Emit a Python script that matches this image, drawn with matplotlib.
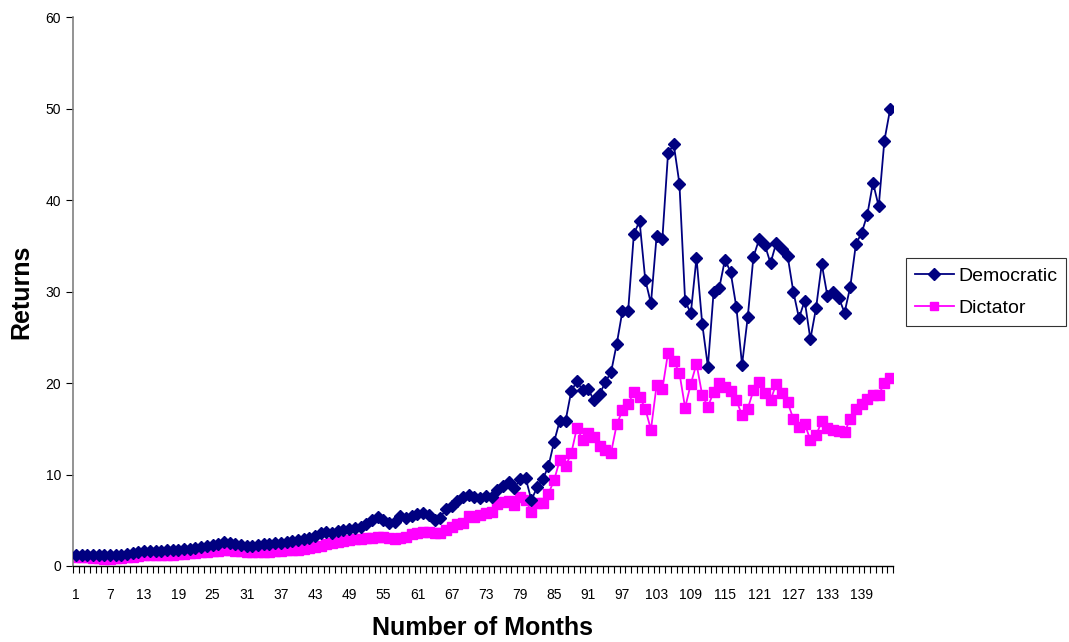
import numpy as np
import matplotlib.pyplot as plt

plt.rcParams['font.family'] = ['Liberation Sans', 'DejaVu Sans']

# Monthly cumulative returns for the two portfolios
months = np.arange(1, 145)

democratic = [
    1.25, 1.25, 1.2, 1.2, 1.15, 1.15, 1.15, 1.2, 1.25, 1.35,
    1.45, 1.55, 1.6, 1.6, 1.65, 1.65, 1.7, 1.75, 1.8, 1.85,
    1.9, 2.0, 2.1, 2.2, 2.3, 2.45, 2.6, 2.5, 2.45, 2.3,
    2.2, 2.15, 2.3, 2.4, 2.45, 2.5, 2.55, 2.6, 2.7, 2.85,
    3.0, 3.1, 3.3, 3.6, 3.7, 3.65, 3.8, 3.9, 4.0, 4.1,
    4.3, 4.6, 5.0, 5.4, 5.0, 4.7, 4.8, 5.5, 5.2, 5.5,
    5.7, 5.8, 5.6, 5.0, 5.3, 6.2, 6.6, 7.1, 7.5, 7.8,
    7.5, 7.4, 7.6, 7.5, 8.3, 8.7, 9.2, 8.5, 9.5, 9.6,
    7.2, 8.6, 9.5, 10.9, 13.6, 15.9, 15.85, 19.1, 20.2, 19.2,
    19.3, 18.1, 18.8, 20.1, 21.2, 24.3, 27.9, 27.9, 36.3, 37.7,
    31.3, 28.7, 36.1, 35.7, 45.1, 46.1, 41.8, 29.0, 27.6, 33.7,
    26.5, 21.8, 29.9, 30.4, 33.5, 32.1, 28.3, 22.0, 27.2, 33.8,
    35.7, 35.1, 33.1, 35.3, 34.7, 33.9, 30.0, 27.1, 29.0, 24.8,
    28.2, 33.0, 29.5, 30.0, 29.3, 27.7, 30.5, 35.2, 36.4, 38.4,
    41.9, 39.3, 46.5, 49.9,
]

dictator = [
    1.0, 1.0, 0.95, 0.9, 0.85, 0.8, 0.8, 0.85, 0.9, 0.95,
    1.0, 1.1, 1.15, 1.2, 1.2, 1.2, 1.2, 1.25, 1.3, 1.35,
    1.4, 1.45, 1.5, 1.55, 1.6, 1.65, 1.75, 1.7, 1.65, 1.6,
    1.55, 1.5, 1.5, 1.5, 1.55, 1.6, 1.65, 1.7, 1.75, 1.8,
    1.9, 2.0, 2.05, 2.2, 2.35, 2.5, 2.6, 2.75, 2.85, 2.95,
    3.0, 3.05, 3.1, 3.2, 3.15, 3.05, 3.0, 3.05, 3.2, 3.5,
    3.6, 3.7, 3.7, 3.6, 3.6, 3.9, 4.3, 4.6, 4.7, 5.5,
    5.4, 5.6, 5.8, 5.9, 6.8, 7.0, 7.1, 6.7, 7.5, 7.2,
    5.9, 6.9, 6.9, 7.9, 9.4, 11.6, 10.9, 12.3, 15.1, 13.8,
    14.5, 14.1, 13.1, 12.7, 12.4, 15.5, 17.0, 17.7, 19.0, 18.5,
    17.2, 14.9, 19.8, 19.3, 23.3, 22.4, 21.1, 17.3, 19.9, 22.1,
    18.7, 17.4, 19.0, 20.0, 19.6, 19.1, 18.1, 16.5, 17.2, 19.2,
    20.1, 18.9, 18.1, 19.9, 18.9, 17.9, 16.1, 15.2, 15.5, 13.8,
    14.3, 15.8, 15.1, 14.9, 14.8, 14.6, 16.1, 17.2, 17.7, 18.3,
    18.7, 18.7, 20.0, 20.6,
]

x_labels = list(range(1, 145, 6))

fig = plt.figure(figsize=(10.69, 6.42), dpi=100)
ax = fig.add_axes([0.0683, 0.1184, 0.767, 0.855])

ax.plot(months, democratic, color='#000080', marker='D', markersize=6,
        linewidth=1.3, label='Democratic', zorder=3)
ax.plot(months, dictator, color='#FF00FF', marker='s', markersize=7,
        linewidth=1.3, label='Dictator', zorder=2)

ax.set_xlim(0.5, 144.5)
ax.set_ylim(0, 60)

# category boundaries get tick marks, labels sit on every sixth month
ax.set_xticks(np.arange(0.5, 145, 1), minor=True)
ax.set_xticks(x_labels)
ax.set_xticklabels([str(v) for v in x_labels], fontsize=10)
ax.tick_params(axis='x', which='major', length=0, pad=16)
ax.tick_params(axis='x', which='minor', length=5, width=0.8, direction='out')
ax.set_yticks(range(0, 61, 10))
ax.tick_params(axis='y', labelsize=10, length=5, width=0.8, direction='out')

for side in ['top', 'right']:
    ax.spines[side].set_visible(False)
ax.spines['left'].set_color('#808080')
ax.spines['left'].set_linewidth(1.2)
ax.spines['bottom'].set_color('black')
ax.spines['bottom'].set_linewidth(1.0)

ax.set_xlabel('Number of Months', fontsize=18, fontweight='bold', labelpad=10)
ax.set_ylabel('Returns', fontsize=18, fontweight='bold', labelpad=9)

leg = ax.legend(loc='center left', bbox_to_anchor=(0.8475, 0.545),
                bbox_transform=fig.transFigure, fontsize=14, frameon=True,
                fancybox=False, borderpad=0.45, handlelength=2.0,
                handletextpad=0.25, labelspacing=0.75, borderaxespad=0)
leg.get_frame().set_edgecolor('black')
leg.get_frame().set_linewidth(0.8)
for h in leg.legend_handles:
    h.set_markersize(6)

fig.savefig('out.png', dpi=100, facecolor='white')
